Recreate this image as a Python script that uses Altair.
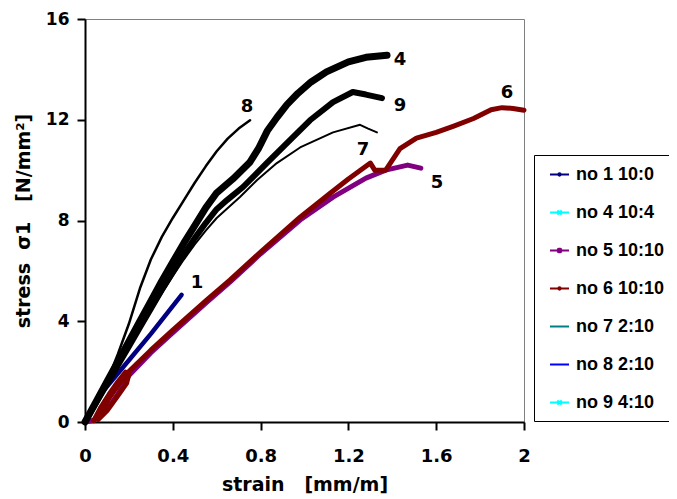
import altair as alt
import pandas as pd

# ---------------- data ----------------
names = ["no 1 10:0", "no 4 10:4", "no 5 10:10", "no 6 10:10",
         "no 7 2:10", "no 8 2:10", "no 9 4:10"]
legend_colors = ["#000080", "#00FFFF", "#800080", "#800000",
                 "#008080", "#0000FF", "#00FFFF"]

s1_x = [0, 0.08, 0.2, 0.3, 0.44]
s1_y = [0, 1.2, 2.45, 3.5, 5.05]

s4_x = [0, 0.05, 0.1, 0.15, 0.2, 0.25, 0.3, 0.35, 0.4, 0.45, 0.5, 0.55, 0.6,
        0.674, 0.75, 0.79, 0.83, 0.875, 0.92, 0.97, 1.03, 1.1, 1.2, 1.28, 1.376]
s4_y = [0, 0.8, 1.6, 2.4, 3.2, 4.0, 4.8, 5.6, 6.35, 7.1, 7.8, 8.5, 9.1,
        9.65, 10.3, 10.85, 11.55, 12.1, 12.6, 13.05, 13.5, 13.9, 14.3, 14.48, 14.56]

s5_x = [0.0, 0.03, 0.06, 0.1, 0.15, 0.2, 0.3, 0.4, 0.554, 0.66, 0.8, 0.98,
        1.13, 1.28, 1.37, 1.47, 1.53]
s5_y = [0.0, 0.05, 0.15, 0.5, 1.1, 1.85, 2.75, 3.55, 4.75, 5.55, 6.68, 8.02,
        8.93, 9.68, 10.0, 10.2, 10.08]

s6_x = [0.04, 0.07, 0.11, 0.15, 0.185, 0.2, 0.19, 0.15, 0.1, 0.06, 0.07, 0.11,
        0.15, 0.2, 0.3, 0.4, 0.554, 0.66, 0.8, 0.98, 1.12, 1.2, 1.3, 1.32, 1.37,
        1.435, 1.51, 1.6, 1.68, 1.77, 1.85, 1.9, 1.95, 2.0]
s6_y = [0.05, 0.55, 1.1, 1.6, 1.98, 1.9, 1.55, 1.05, 0.45, 0.1, 0.35, 0.95,
        1.45, 2.0, 2.85, 3.65, 4.84, 5.63, 6.75, 8.13, 9.1, 9.65, 10.28, 10.0, 10.0,
        10.85, 11.27, 11.5, 11.75, 12.05, 12.4, 12.48, 12.45, 12.38]

s7_x = [0, 0.05, 0.1, 0.15, 0.2, 0.25, 0.3, 0.35, 0.4, 0.45, 0.5, 0.55, 0.6,
        0.706, 0.783, 0.874, 0.98, 1.13, 1.253, 1.29, 1.33]
s7_y = [0, 0.7, 1.45, 2.2, 2.95, 3.7, 4.4, 5.1, 5.8, 6.45, 7.05, 7.6, 8.1,
        8.93, 9.6, 10.28, 10.9, 11.5, 11.8, 11.65, 11.5]

s8_x = [0, 0.05, 0.1, 0.15, 0.2, 0.25, 0.3, 0.35, 0.4, 0.45, 0.5, 0.55, 0.6,
        0.65, 0.7, 0.752]
s8_y = [0, 0.7, 1.6, 2.7, 3.9, 5.3, 6.45, 7.35, 8.1, 8.8, 9.5, 10.15, 10.75,
        11.25, 11.65, 11.98]

s9_x = [0, 0.05, 0.1, 0.15, 0.2, 0.25, 0.3, 0.35, 0.4, 0.45, 0.5, 0.55, 0.6,
        0.647, 0.72, 0.828, 0.92, 1.025, 1.13, 1.22, 1.28, 1.353]
s9_y = [0, 0.75, 1.5, 2.25, 3.0, 3.75, 4.5, 5.25, 5.95, 6.65, 7.3, 7.9, 8.45,
        8.81, 9.33, 10.28, 11.07, 11.98, 12.7, 13.1, 13.0, 12.86]

ann_text = ["1", "4", "5", "6", "7", "8", "9"]
ann_x = [0.51, 1.435, 1.604, 1.923, 1.267, 0.738, 1.435]
ann_y = [5.52, 14.37, 9.48, 13.06, 10.79, 12.5, 12.54]

x_ticks = [0, 0.4, 0.8, 1.2, 1.6, 2]
y_ticks = [0, 4, 8, 12, 16]

# ---------------- styles ----------------
series_data = {
    "no 1 10:0": (s1_x, s1_y),
    "no 4 10:4": (s4_x, s4_y),
    "no 5 10:10": (s5_x, s5_y),
    "no 6 10:10": (s6_x, s6_y),
    "no 7 2:10": (s7_x, s7_y),
    "no 8 2:10": (s8_x, s8_y),
    "no 9 4:10": (s9_x, s9_y),
}
draw_style = {  # stroke colour, width as drawn in the plot
    "no 5 10:10": ("#800080", 5),
    "no 6 10:10": ("#800000", 5),
    "no 1 10:0": ("#000080", 4.5),
    "no 7 2:10": ("#000000", 2),
    "no 9 4:10": ("#000000", 6),
    "no 4 10:4": ("#000000", 7),
    "no 8 2:10": ("#000000", 2.5),
}
legend_paths = [
    "M-1,0L1,0M-0.12,0A0.12,0.12 0 1,0 0.12,0A0.12,0.12 0 1,0 -0.12,0",
    "M-1,0L1,0M-0.22,-0.22L0.22,0.22M-0.22,0.22L0.22,-0.22",
    "M-1,0L1,0M-0.22,-0.22L0.22,0.22M-0.22,0.22L0.22,-0.22M0,-0.3L0,0.3",
    "M-1,0L1,0M-0.12,0A0.12,0.12 0 1,0 0.12,0A0.12,0.12 0 1,0 -0.12,0",
    "M-1,0L1,0",
    "M-1,0L1,0",
    "M-1,0L1,0M-0.22,-0.22L0.22,0.22M-0.22,0.22L0.22,-0.22",
]

rows = []
for name, (xs, ys) in series_data.items():
    for i, (xv, yv) in enumerate(zip(xs, ys)):
        rows.append({"series": name, "strain": xv, "stress": yv, "idx": i})
df = pd.DataFrame(rows)
ann_df = pd.DataFrame({"label": ann_text, "strain": ann_x, "stress": ann_y})

FONT = "DejaVu Sans"

x_enc = alt.X(
    "strain:Q",
    scale=alt.Scale(domain=[0, 2], nice=False),
    axis=alt.Axis(values=x_ticks, format="~g", title="strain\u00a0\u00a0\u00a0[mm/m]",
                  labelFontSize=18, labelPadding=17, titlePadding=10, labelFlush=False),
)
y_enc = alt.Y(
    "stress:Q",
    scale=alt.Scale(domain=[0, 16], nice=False),
    axis=alt.Axis(values=y_ticks, format="~g",
                  title="stress\u00a0\u00a0σ1\u00a0\u00a0\u00a0[N/mm²]",
                  labelFontSize=17, labelPadding=8, titlePadding=12, labelFlush=False),
)

base = alt.Chart(df)
layers = []
for name, (col, w) in draw_style.items():
    layers.append(
        base.transform_filter(alt.datum.series == name)
        .mark_line(stroke=col, strokeWidth=w, strokeJoin="round", strokeCap="round")
        .encode(x=x_enc, y=y_enc, order="idx:Q")
    )

leg = alt.Legend(
    title=None, orient="none", legendX=449, legendY=136,
    padding=9, rowPadding=18, strokeColor="black", fillColor="white",
    symbolSize=361, symbolStrokeWidth=2, symbolOpacity=1, labelOffset=6,
    symbolOffset=6,
    labelFont="Liberation Sans", labelFontSize=18, labelFontWeight="bold",
    labelColor="black",
)
legend_layer = base.mark_point(opacity=0, filled=False).encode(
    x=x_enc, y=y_enc,
    color=alt.Color("series:N", scale=alt.Scale(domain=names, range=legend_colors), legend=leg),
    shape=alt.Shape("series:N", scale=alt.Scale(domain=names, range=legend_paths), legend=leg),
)

text_layer = alt.Chart(ann_df).mark_text(
    font=FONT, fontSize=18, fontWeight="bold", color="black"
).encode(x=x_enc, y=y_enc, text="label:N")

chart = alt.layer(legend_layer, *layers, text_layer).properties(
    width=439, height=403,
    autosize=alt.AutoSizeParams(type="none"),
    padding={"left": 77, "top": 11, "right": 145, "bottom": 75},
).configure_view(
    stroke="#808080", strokeWidth=1
).configure_axis(
    grid=False, domainColor="black", domainWidth=2, tickColor="black",
    tickWidth=2, tickSize=8, labelFont=FONT, labelFontWeight="bold",
    labelColor="black", titleFont=FONT, titleFontSize=19, titleFontWeight="bold",
    titleColor="black",
)

chart.save("out.html", embed_options={"renderer": "svg", "actions": False})
